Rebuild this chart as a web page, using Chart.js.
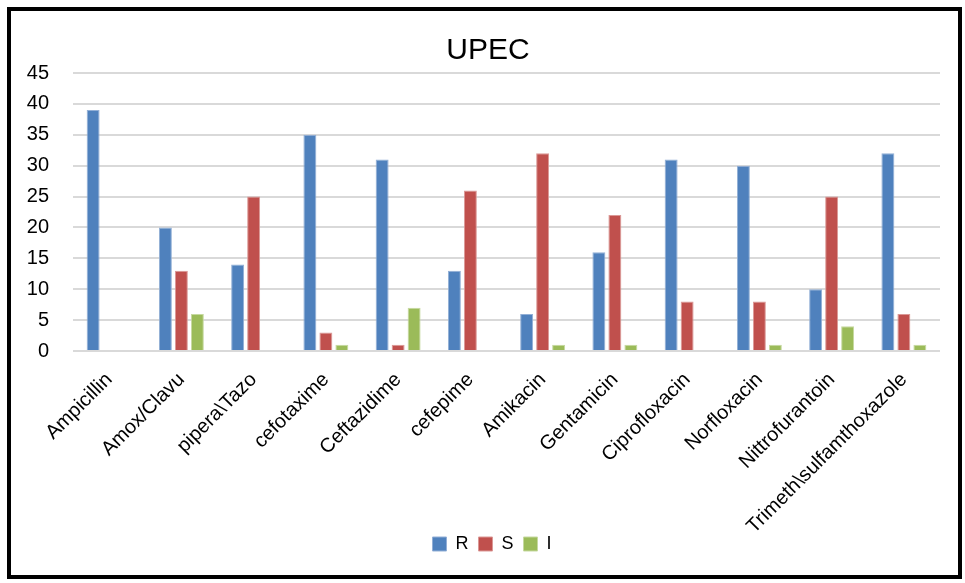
<!DOCTYPE html>
<html>
<head>
<meta charset="utf-8">
<script src="https://cdn.jsdelivr.net/npm/chart.js@4/dist/chart.umd.min.js"></script>
<style>
  html, body { margin: 0; padding: 0; background: #fff; }
  #wrap { position: relative; width: 965px; height: 583px; }
  #frame {
    position: absolute; left: 7px; top: 7px; width: 955px; height: 572px;
    border: 4px solid #000; box-sizing: border-box; pointer-events: none;
  }
  canvas { position: absolute; left: 0; top: 0; }
</style>
</head>
<body>
<div id="wrap">
  <canvas id="upec" width="965" height="583"></canvas>
  <div id="frame"></div>
</div>
<script>
// antibiotics tested
var drugs = ['Ampicillin', 'Amox/Clavu', 'pipera\\Tazo', 'cefotaxime', 'Ceftazidime', 'cefepime',
  'Amikacin', 'Gentamicin', 'Ciprofloxacin', 'Norfloxacin', 'Nittrofurantoin', 'Trimeth\\sulfamthoxazole'];

// number of isolates per result
var resistant    = [39, 20, 14, 35, 31, 13, 6, 16, 31, 30, 10, 32];
var sensitive    = [0, 13, 25, 3, 1, 26, 32, 22, 8, 8, 25, 6];
var intermediate = [0, 6, 0, 1, 7, 0, 1, 1, 0, 1, 4, 1];

var yTicks = [0, 5, 10, 15, 20, 25, 30, 35, 40, 45];

var font = 'Liberation Sans, Arial, sans-serif';

// nudge title and legend: legend sits over the bottom of the long rotated labels
var nudge = {
  id: 'nudge',
  afterLayout: function (chart) {
    var t = chart.titleBlock, l = chart.legend;
    t.left += 8; t.right += 8;
    l.left += 12; l.right += 12;
    l.top -= 10; l.bottom -= 10;
  }
};

var ctx = document.getElementById('upec').getContext('2d');
var chart = new Chart(ctx, {
  type: 'bar',
  data: {
    labels: drugs,
    datasets: [
      { label: 'R', data: resistant, backgroundColor: '#4F81BD', borderColor: '#92AFD6', borderWidth: 1 },
      { label: 'S', data: sensitive, backgroundColor: '#C0504D', borderColor: '#DB9896', borderWidth: 1 },
      { label: 'I', data: intermediate, backgroundColor: '#9BBB59', borderColor: '#C6D9A0', borderWidth: 1 }
    ]
  },
  plugins: [nudge],
  options: {
    responsive: false,
    animation: false,
    devicePixelRatio: 1,
    layout: { padding: { left: 20, right: 25, top: 33, bottom: 10 } },
    datasets: {
      bar: { categoryPercentage: 0.664, barPercentage: 0.81 }
    },
    plugins: {
      title: {
        display: true,
        text: 'UPEC',
        color: '#000',
        font: { family: font, size: 30, weight: 'normal' },
        padding: { top: 0, bottom: 4 }
      },
      legend: {
        position: 'bottom',
        labels: {
          color: '#000',
          font: { family: font, size: 18 },
          boxWidth: 14,
          boxHeight: 14,
          padding: 10
        }
      },
      tooltip: { enabled: false }
    },
    scales: {
      x: {
        grid: { display: false },
        border: { display: false },
        ticks: {
          color: '#000',
          font: { family: font, size: 20 },
          minRotation: 45,
          maxRotation: 45,
          autoSkip: false,
          padding: 9
        },
        afterFit: function (scale) { scale.height = 184; }
      },
      y: {
        min: 0,
        max: 45,
        afterBuildTicks: function (scale) {
          scale.ticks = yTicks.map(function (v) { return { value: v }; });
        },
        grid: { color: '#D9D9D9', lineWidth: 2, drawTicks: false },
        border: { display: false },
        ticks: {
          color: '#000',
          font: { family: font, size: 20 },
          padding: 24
        },
        afterFit: function (scale) { scale.width = 53; }
      }
    }
  }
});
</script>
</body>
</html>
